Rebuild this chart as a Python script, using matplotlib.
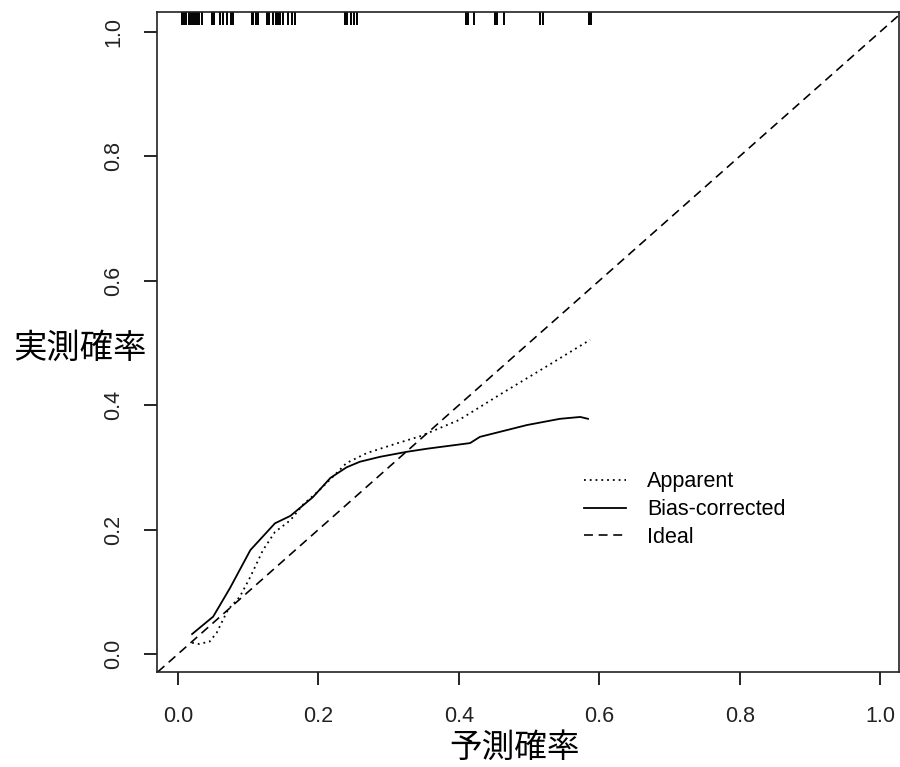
import matplotlib
matplotlib.use("Agg")
import matplotlib.pyplot as plt
from matplotlib.transforms import blended_transform_factory

# Calibration curves: predicted vs. observed probability
apparent_x = [0.02, 0.03, 0.045, 0.055, 0.071, 0.088, 0.103, 0.121, 0.138, 0.16, 0.178,
              0.2, 0.226, 0.24, 0.269, 0.313, 0.345, 0.40, 0.46, 0.526, 0.587]
apparent_y = [0.018, 0.016, 0.02, 0.034, 0.071, 0.092, 0.124, 0.167, 0.196, 0.215, 0.24,
              0.262, 0.291, 0.307, 0.323, 0.339, 0.35, 0.376, 0.418, 0.463, 0.505]

bias_x = [0.02, 0.05, 0.074, 0.103, 0.138, 0.16, 0.192, 0.217, 0.24, 0.259, 0.288,
          0.326, 0.355, 0.416, 0.43, 0.497, 0.544, 0.573, 0.584]
bias_y = [0.032, 0.06, 0.106, 0.167, 0.21, 0.222, 0.252, 0.283, 0.30, 0.309, 0.317,
          0.325, 0.330, 0.339, 0.349, 0.368, 0.378, 0.381, 0.378]

# Distribution of predicted probabilities (rug along the top)
rug_x = [0.006, 0.009, 0.012, 0.015, 0.018, 0.021, 0.024, 0.027, 0.030, 0.034,
         0.048, 0.051, 0.060, 0.064, 0.070, 0.075, 0.078,
         0.105, 0.107, 0.111, 0.114, 0.127, 0.130, 0.135, 0.140, 0.142, 0.145,
         0.150, 0.157, 0.162, 0.167,
         0.238, 0.241, 0.246, 0.251, 0.255,
         0.410, 0.413, 0.422, 0.452, 0.454, 0.464, 0.516, 0.520, 0.585, 0.588]

x_ticks = [0.0, 0.2, 0.4, 0.6, 0.8, 1.0]
y_ticks = [0.0, 0.2, 0.4, 0.6, 0.8, 1.0]
legend_labels = ["Apparent", "Bias-corrected", "Ideal"]
x_label = "予測確率"
y_label = "実測確率"

plt.rcParams["font.family"] = ["Liberation Sans", "DejaVu Sans"]

fig = plt.figure(figsize=(9, 7.67), dpi=100)
ax = fig.add_axes([157 / 900, 95 / 767, 742 / 900, 660 / 767])

lw = 1.3
h_app, = ax.plot(apparent_x, apparent_y, color="black", lw=lw, linestyle=(0, (1, 2.2)))
h_bias, = ax.plot(bias_x, bias_y, color="black", lw=lw, linestyle="-")
h_ideal = ax.axline((0, 0), slope=1, color="black", lw=lw * 0.9, linestyle=(0, (5.5, 3.5)))

trans = blended_transform_factory(ax.transData, ax.transAxes)
ax.vlines(rug_x, 1.0 - 0.02, 1.0, transform=trans, color="black", lw=1.4)

ax.set_xlim(-0.03, 1.027)
ax.set_ylim(-0.029, 1.032)
ax.set_xticks(x_ticks)
ax.set_yticks(y_ticks)
ax.set_xticklabels([f"{v:.1f}" for v in x_ticks], fontsize=15.5, color="#222222")
ax.set_yticklabels([f"{v:.1f}" for v in y_ticks], fontsize=15.5, color="#222222",
                   rotation=90, va="center")
ax.tick_params(axis="x", length=9.5, width=1.2, pad=15)
ax.tick_params(axis="y", length=9.5, width=1.2, pad=14)
for s in ax.spines.values():
    s.set_linewidth(1.2)
    s.set_color("#222222")

leg = ax.legend([h_app, h_bias, h_ideal], legend_labels, loc="center left",
                frameon=False, fontsize=15.5, handlelength=1.95, handletextpad=1.0,
                labelspacing=0.31, borderaxespad=0, borderpad=0)
# centre the legend block on the middle row
leg.set_bbox_to_anchor((0.575, (0.232 + 0.029) / 1.061), transform=ax.transAxes)

cjk = ["Noto Sans CJK JP", "DejaVu Sans"]
fig.text(80 / 900, 1 - 348 / 767, y_label, family=cjk, fontsize=24,
         ha="center", va="center")
fig.text(515 / 900, 1 - 748 / 767, x_label, family=cjk, fontsize=23.5,
         ha="center", va="center")

fig.savefig("out.png", dpi=100)
